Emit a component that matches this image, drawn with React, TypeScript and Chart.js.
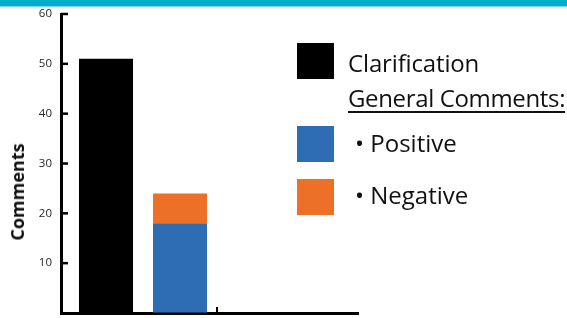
import React, { useEffect, useRef } from 'react';
import { Chart, registerables } from 'chart.js';

Chart.register(...registerables);

// ---- data ----
const categories = ['Clarification', 'General Comments'];
const clarificationValues: (number | null)[] = [51, null];
const positiveValues: (number | null)[] = [null, 18];
const negativeValues: (number | null)[] = [null, 6];
const yTickValues = [0, 10, 20, 30, 40, 50, 60];
const seriesNames = ['Clarification', 'Positive', 'Negative'];
const seriesColors = ['#000000', '#2E6DB4', '#EC7028'];

const FONT = "'Open Sans', 'Noto Sans', sans-serif";

const axisTicksPlugin = {
  id: 'axisTicks',
  afterDraw(chart: any) {
    const { ctx, chartArea, scales } = chart;
    const x = scales.x;
    const y = scales.y;
    ctx.save();
    ctx.strokeStyle = '#000';
    ctx.lineWidth = 2.5;
    y.ticks.forEach((t: any) => {
      if (t.value === 0) return;
      const py = y.getPixelForValue(t.value);
      ctx.beginPath();
      ctx.moveTo(chartArea.left, py);
      ctx.lineTo(chartArea.left + 7, py);
      ctx.stroke();
    });
    // boundary tick between the 2nd and 3rd category slot
    const px = x.getPixelForValue(categories.length - 0.5);
    ctx.lineWidth = 2;
    ctx.beginPath();
    ctx.moveTo(px, chartArea.bottom);
    ctx.lineTo(px, chartArea.bottom - 6);
    ctx.stroke();
    ctx.restore();
  },
};

function ChartCanvas() {
  const ref = useRef<HTMLCanvasElement>(null);
  useEffect(() => {
    if (!ref.current) return;
    const toPts = (arr: (number | null)[]) => arr.map((v, i) => ({ x: i, y: v }));
    const chart = new Chart(ref.current, {
      type: 'bar',
      data: {
        datasets: [
          { label: seriesNames[0], data: toPts(clarificationValues) as any, backgroundColor: seriesColors[0], borderWidth: 0 },
          { label: seriesNames[1], data: toPts(positiveValues) as any, backgroundColor: seriesColors[1], borderWidth: 0 },
          { label: seriesNames[2], data: toPts(negativeValues) as any, backgroundColor: seriesColors[2], borderWidth: 0 },
        ],
      },
      options: {
        animation: false,
        responsive: false,
        maintainAspectRatio: false,
        barPercentage: 0.73,
        categoryPercentage: 1,
        layout: { padding: { left: 0, top: 14, right: 209, bottom: 5 } },
        plugins: { legend: { display: false }, tooltip: { enabled: false } },
        scales: {
          x: {
            type: 'linear',
            stacked: true,
            offset: false,
            min: -0.608,
            max: 3.405,
            ticks: { display: false },
            grid: { display: true, drawOnChartArea: false, drawTicks: false, offset: false },
            border: { display: true, color: '#000', width: 3 },
            afterFit: (s: any) => { s.height = 0; },
          },
          y: {
            stacked: true,
            min: 0,
            max: 60,
            afterBuildTicks: (s: any) => { s.ticks = yTickValues.map((v) => ({ value: v })); },
            ticks: {
              padding: 0,
              color: '#231F20',
              font: { family: FONT, size: 11.5, lineHeight: 0.4 },
              callback: (v: any) => (v === 0 ? '' : String(v)),
            },
            grid: { display: true, drawOnChartArea: false, drawTicks: true, tickLength: 9, tickColor: 'rgba(0,0,0,0)' },
            border: { display: true, color: '#000', width: 3 },
            afterFit: (s: any) => { s.width = 61; },
          },
        },
      } as any,
      plugins: [axisTicksPlugin],
    });
    return () => chart.destroy();
  }, []);
  return <canvas ref={ref} width={567} height={318} style={{ position: 'absolute', left: 0, top: 0, width: 567, height: 318 }} />;
}

export default function App() {
  const sq = (top: number, color: string) => (
    <div style={{ position: 'absolute', left: 297, top, width: 37, height: 36, background: color }} />
  );
  const text = (left: number, baseline: number, content: React.ReactNode, extra: React.CSSProperties = {}) => (
    <div
      style={{
        position: 'absolute',
        left,
        top: baseline - 21.3,
        fontFamily: FONT,
        fontSize: 24,
        lineHeight: '24px',
        color: '#111',
        whiteSpace: 'nowrap',
        ...extra,
      }}
    >
      {content}
    </div>
  );
  return (
    <div style={{ position: 'absolute', left: 0, top: 0, width: 567, height: 318, overflow: 'hidden', background: '#fff' }}>
      <div style={{ position: 'absolute', left: 0, top: 0, width: 567, height: 6, background: '#00AFCB' }} />
      <div style={{ position: 'absolute', left: 0, top: 6, width: 567, height: 1, background: '#7FD5E4' }} />
      <ChartCanvas />
      <div
        style={{
          position: 'absolute',
          left: 16.5,
          top: 192,
          transform: 'translate(-50%, -50%) rotate(-90deg)',
          fontFamily: FONT,
          fontWeight: 700,
          fontSize: 18,
          color: '#111',
          whiteSpace: 'nowrap',
          lineHeight: '18px',
        }}
      >
        Comments
      </div>
      {sq(43, seriesColors[0])}
      {sq(126, seriesColors[1])}
      {sq(179, seriesColors[2])}
      {text(348, 72, seriesNames[0], { letterSpacing: '-0.15px' })}
      {text(348, 107, 'General Comments:', {
        letterSpacing: '-0.35px',
        textDecoration: 'underline',
        textUnderlineOffset: '4px',
        textDecorationThickness: '1.5px',
      })}
      {text(355, 152, '\u2022 ' + seriesNames[1])}
      {text(355, 204, '\u2022 ' + seriesNames[2])}
    </div>
  );
}
